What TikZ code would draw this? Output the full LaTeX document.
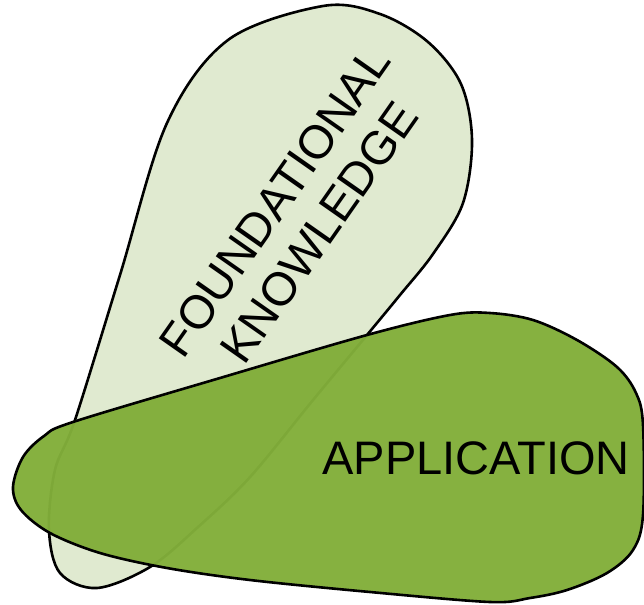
\documentclass[tikz,border=0pt]{standalone}
\usepackage{fontspec}
\setmainfont{Liberation Sans}
\usepackage{tikz}
\definecolor{lgreen}{HTML}{E0EAD0}
\definecolor{dgreen}{HTML}{82AE3A}

\begin{document}
\begin{tikzpicture}[x=1pt,y=-1pt,line width=2.6pt,line join=round,
                    leaf/.style={draw=black,fill=#1},
                    label/.style={font=\fontsize{47}{54}\selectfont,align=center,inner sep=0pt}]
  \useasboundingbox (0,0) rectangle (644,604);
  \clip (0,0) rectangle (644,604);

  % back leaf
  \draw[leaf=lgreen] plot[smooth cycle,tension=0.55] coordinates {
    (323,6) (380,14) (428,42) (461,84) (472,140) (463,203) (433,254)
    (400,295) (367,335) (313,400) (250,477) (198,527) (150,567)
    (97,588) (60,573) (49,530) (55,470) (75,420) (120,275) (167,123)
    (228,40)};

  % front leaf
  \draw[leaf=dgreen,fill opacity=0.97] plot[smooth cycle,tension=0.55] coordinates {
    (13,487) (23,457) (44,436) (73,422) (220,378) (367,335) (450,315)
    (490,313) (533,320) (577,340) (617,367) (636,393) (643,425)
    (643,515) (633,550) (607,573) (567,590) (530,598) (490,602)
    (370,592) (250,580) (167,568) (100,553) (50,533) (21,510)};

  \node[label,rotate=55] (found) at (297,217) {FOUNDATIONAL\\KNOWLEDGE};
  \node[label] (appl) at (476,458) {APPLICATION};
\end{tikzpicture}
\end{document}
